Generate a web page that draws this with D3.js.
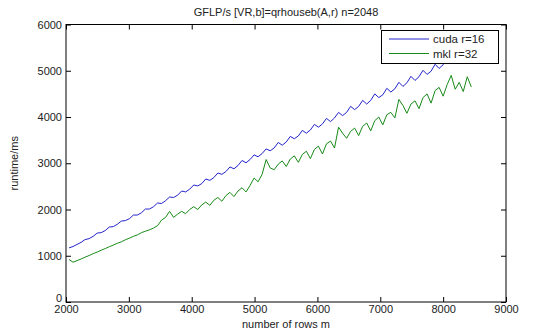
<!DOCTYPE html>
<html>
<head>
<meta charset="utf-8">
<script src="https://cdn.jsdelivr.net/npm/d3@7"></script>
<style>
    body { margin: 0; background: #fff; }
    svg { display: block; font-family: "Liberation Sans", Arial, sans-serif; }
    .tick text { font-size: 11px; fill: #222; }
</style>
</head>
<body>
<svg id="chart" width="538" height="334"></svg>
<script>
    // m = 2048:64:8448
    const rows = d3.range(2048, 8449, 64);

    const cudaTimes = [1170, 1200, 1245, 1290, 1350, 1370, 1420, 1490, 1500, 1545,
        1620, 1630, 1680, 1750, 1760, 1800, 1880, 1880, 1930, 2010,
        2010, 2060, 2140, 2130, 2190, 2270, 2260, 2310, 2400, 2380,
        2440, 2530, 2510, 2560, 2660, 2630, 2690, 2790, 2760, 2820,
        2920, 2880, 2950, 3060, 3010, 3080, 3180, 3140, 3210, 3310,
        3270, 3330, 3450, 3390, 3460, 3580, 3530, 3590, 3710, 3650,
        3720, 3840, 3780, 3850, 3970, 3900, 3980, 4100, 4030, 4100,
        4230, 4160, 4230, 4360, 4280, 4360, 4500, 4420, 4480, 4620,
        4540, 4610, 4750, 4660, 4740, 4880, 4790, 4870, 5010, 4920,
        4990, 5140, 5050, 5130, 5270, 5180, 5260, 5400, 5300, 5390, 5480];

    const mklTimes = [920, 860, 895, 930, 970, 1005, 1045, 1080, 1120, 1155,
        1195, 1230, 1270, 1300, 1345, 1380, 1420, 1450, 1500, 1530,
        1560, 1600, 1650, 1770, 1830, 1960, 1830, 1900, 1960, 1910,
        2000, 2060, 2000, 2100, 2160, 2090, 2200, 2260, 2180, 2300,
        2370, 2280, 2400, 2470, 2380, 2520, 2680, 2600, 2760, 3080,
        2900, 2860, 2980, 3050, 2930, 3090, 3160, 3020, 3190, 3260,
        3100, 3300, 3370, 3200, 3420, 3480, 3330, 3780, 3650, 3540,
        3690, 3760, 3600, 3800, 3870, 3700, 3920, 4000, 3830, 4050,
        4100, 3980, 4380, 4250, 4080, 4280, 4350, 4180, 4420, 4500,
        4300, 4570, 4640, 4450, 4700, 4900, 4600, 4750, 4550, 4870, 4650];

    const xTicks = [2000, 3000, 4000, 5000, 6000, 7000, 8000, 9000];
    const yTicks = [0, 1000, 2000, 3000, 4000, 5000, 6000];
    const seriesNames = ["cuda r=16", "mkl r=32"];
    const seriesColors = ["#2222cc", "#178a17"];

    const margin = { left: 66, right: 506, top: 24.5, bottom: 302 };

    const svg = d3.select("#chart");

    const x = d3.scaleLinear().domain([2000, 9000]).range([margin.left, margin.right]);
    const y = d3.scaleLinear().domain([0, 6000]).range([margin.bottom, margin.top]);

    // ticks all around, pointing inwards (box on)
    svg.append("g")
        .attr("transform", `translate(0,${margin.bottom})`)
        .call(d3.axisBottom(x).tickValues(xTicks).tickSizeInner(-5).tickSizeOuter(0).tickPadding(3).tickFormat(d3.format("d")));
    svg.append("g")
        .attr("transform", `translate(0,${margin.top})`)
        .call(d3.axisTop(x).tickValues(xTicks).tickSizeInner(-5).tickSizeOuter(0).tickFormat(""));
    const yAxis = svg.append("g")
        .attr("transform", `translate(${margin.left},0)`)
        .call(d3.axisLeft(y).tickValues(yTicks).tickSizeInner(-5).tickSizeOuter(0).tickPadding(4).tickFormat(d3.format("d")));
    svg.append("g")
        .attr("transform", `translate(${margin.right},0)`)
        .call(d3.axisRight(y).tickValues(yTicks).tickSizeInner(-5).tickSizeOuter(0).tickFormat(""));
    svg.selectAll(".domain").remove();
    svg.selectAll(".tick line").attr("stroke", "#000");
    // matlab lifts the "0" so it clears the 2000 below it
    yAxis.selectAll(".tick text").filter(d => d === 0).attr("dy", "-0.05em");

    svg.append("rect")
        .attr("x", margin.left).attr("y", margin.top)
        .attr("width", margin.right - margin.left).attr("height", margin.bottom - margin.top)
        .attr("fill", "none").attr("stroke", "#000");

    const line = d3.line()
        .x((d, i) => x(rows[i]))
        .y(d => y(d));

    [cudaTimes, mklTimes].forEach((vals, k) => {
        svg.append("path")
            .datum(vals)
            .attr("fill", "none")
            .attr("stroke", seriesColors[k])
            .attr("stroke-width", 1)
            .attr("d", line);
    });

    // legend (covers the end of the cuda line, like matlab)
    const lg = svg.append("g");
    lg.append("rect")
        .attr("x", 381.5).attr("y", 30.5)
        .attr("width", 117).attr("height", 33)
        .attr("fill", "#fff").attr("stroke", "#000");
    seriesNames.forEach((name, k) => {
        const ly = 39 + k * 14.5;
        lg.append("line")
            .attr("x1", 389).attr("x2", 429)
            .attr("y1", ly).attr("y2", ly)
            .attr("stroke", seriesColors[k]);
        lg.append("text")
            .attr("x", 433).attr("y", ly + 4)
            .attr("font-size", 11.5).attr("fill", "#222")
            .text(name);
    });

    svg.append("text")
        .attr("x", (margin.left + margin.right) / 2).attr("y", 16)
        .attr("text-anchor", "middle")
        .attr("font-size", 11).attr("fill", "#222")
        .text("GFLP/s [VR,b]=qrhouseb(A,r) n=2048");

    svg.append("text")
        .attr("x", (margin.left + margin.right) / 2).attr("y", 328)
        .attr("text-anchor", "middle")
        .attr("font-size", 11).attr("fill", "#222")
        .text("number of rows m");

    svg.append("text")
        .attr("transform", `translate(18,${(margin.top + margin.bottom) / 2}) rotate(-90)`)
        .attr("text-anchor", "middle")
        .attr("font-size", 11).attr("fill", "#222")
        .text("runtime/ms");
</script>
</body>
</html>
